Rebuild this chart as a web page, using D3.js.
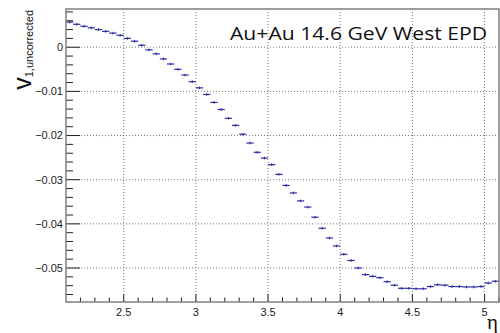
<!DOCTYPE html>
<html>
<head>
<meta charset="utf-8">
<script src="https://cdn.jsdelivr.net/npm/d3@7"></script>
<style>
  html, body { margin: 0; padding: 0; background: #fff; }
  svg { display: block; }
</style>
</head>
<body>
<div id="chart"></div>
<script>
// eta bin centres (bin width 0.05)
const etaCenters = [
    2.125, 2.175, 2.225, 2.275, 2.325, 2.375, 2.425, 2.475, 2.525, 2.575,
    2.625, 2.675, 2.725, 2.775, 2.825, 2.875, 2.925, 2.975, 3.025, 3.075,
    3.125, 3.175, 3.225, 3.275, 3.325, 3.375, 3.425, 3.475, 3.525, 3.575,
    3.625, 3.675, 3.725, 3.775, 3.825, 3.875, 3.925, 3.975, 4.025, 4.075,
    4.125, 4.175, 4.225, 4.275, 4.325, 4.375, 4.425, 4.475, 4.525, 4.575,
    4.625, 4.675, 4.725, 4.775, 4.825, 4.875, 4.925, 4.975, 5.025, 5.075
];

// v1 (uncorrected) per bin
const v1Values = [
    0.0057, 0.0052, 0.00475, 0.0044, 0.0040, 0.0036, 0.0032, 0.0027, 0.0020, 0.00136,
    0.00045, -0.0006, -0.0015, -0.00265, -0.0038, -0.0050, -0.0063, -0.0078, -0.0092, -0.0107,
    -0.0125, -0.0141, -0.0161, -0.0177, -0.0197, -0.0217, -0.0238, -0.0251, -0.0266, -0.0288,
    -0.0313, -0.0330, -0.0348, -0.0362, -0.0385, -0.0410, -0.0432, -0.0450, -0.0469, -0.0483,
    -0.0500, -0.0515, -0.0519, -0.0522, -0.0531, -0.0539, -0.0546, -0.0546, -0.0547, -0.0547,
    -0.0542, -0.0538, -0.0539, -0.0542, -0.0542, -0.0543, -0.0543, -0.0542, -0.0534, -0.0530
];

// statistical errors (small)
const v1Errors = [
    0.0003, 0.0003, 0.0003, 0.0003, 0.0003, 0.0003, 0.0003, 0.0003, 0.0003, 0.0003,
    0.0003, 0.0003, 0.0003, 0.0003, 0.0003, 0.0003, 0.0003, 0.0003, 0.0003, 0.0003,
    0.0003, 0.0003, 0.0003, 0.0003, 0.0003, 0.0003, 0.0003, 0.0003, 0.0003, 0.0003,
    0.0003, 0.0003, 0.0003, 0.0003, 0.0003, 0.0003, 0.0003, 0.0003, 0.0003, 0.0003,
    0.0003, 0.0003, 0.0003, 0.0003, 0.0003, 0.0003, 0.0003, 0.0003, 0.0003, 0.0003,
    0.0003, 0.0003, 0.0003, 0.0003, 0.0003, 0.0003, 0.0003, 0.0003, 0.0003, 0.0003
];

const binHalfWidth = 0.025;

// axis ticks
const xMajorTicks = [2.5, 3, 3.5, 4, 4.5, 5];
const xMinorTicks = [2.2, 2.3, 2.4, 2.6, 2.7, 2.8, 2.9, 3.1, 3.2, 3.3, 3.4,
    3.6, 3.7, 3.8, 3.9, 4.1, 4.2, 4.3, 4.4, 4.6, 4.7, 4.8, 4.9, 5.1];
const yMajorTicks = [0, -0.01, -0.02, -0.03, -0.04, -0.05];
const yMinorTicks = [0.008, 0.006, 0.004, 0.002, -0.002, -0.004, -0.006, -0.008,
    -0.012, -0.014, -0.016, -0.018, -0.022, -0.024, -0.026, -0.028,
    -0.032, -0.034, -0.036, -0.038, -0.042, -0.044, -0.046, -0.048,
    -0.052, -0.054, -0.056];

const data = etaCenters.map((eta, i) => ({ eta: eta, v: v1Values[i], err: v1Errors[i] }));

// Set up dimensions
const svgWidth = 500, svgHeight = 333;
const margin = { top: 9, right: 1, bottom: 31, left: 66 };
const width = svgWidth - margin.left - margin.right;
const height = svgHeight - margin.top - margin.bottom;

const svg = d3.select("#chart")
    .append("svg")
    .attr("width", svgWidth)
    .attr("height", svgHeight);

const g = svg.append("g")
    .attr("transform", `translate(${margin.left},${margin.top})`);

const xScale = d3.scaleLinear()
    .domain([2.1, 5.1])
    .range([0, width]);

const yScale = d3.scaleLinear()
    .domain([-0.0577, 0.00866])
    .range([height, 0]);

// Dotted grid at major ticks
g.append("g")
    .selectAll("line")
    .data(xMajorTicks)
    .enter()
    .append("line")
    .attr("x1", d => xScale(d))
    .attr("x2", d => xScale(d))
    .attr("y1", 0)
    .attr("y2", height)
    .attr("stroke", "#555")
    .attr("stroke-width", 0.8)
    .attr("stroke-dasharray", "1,2");

g.append("g")
    .selectAll("line")
    .data(yMajorTicks)
    .enter()
    .append("line")
    .attr("x1", 0)
    .attr("x2", width)
    .attr("y1", d => yScale(d))
    .attr("y2", d => yScale(d))
    .attr("stroke", "#555")
    .attr("stroke-width", 0.8)
    .attr("stroke-dasharray", "1,2");

// Data: horizontal bin-width bars plus vertical error bars
const lineColor = "#2a2aa2";
const points = g.append("g");

points.selectAll(".xerr")
    .data(data)
    .enter()
    .append("line")
    .attr("class", "xerr")
    .attr("x1", d => xScale(d.eta - binHalfWidth))
    .attr("x2", d => xScale(d.eta + binHalfWidth))
    .attr("y1", d => yScale(d.v))
    .attr("y2", d => yScale(d.v))
    .attr("stroke", lineColor)
    .attr("stroke-width", 1.2);

points.selectAll(".yerr")
    .data(data)
    .enter()
    .append("line")
    .attr("class", "yerr")
    .attr("x1", d => xScale(d.eta))
    .attr("x2", d => xScale(d.eta))
    .attr("y1", d => yScale(d.v - d.err))
    .attr("y2", d => yScale(d.v + d.err))
    .attr("stroke", lineColor)
    .attr("stroke-width", 1);

// Ticks (inside the frame)
const tickColor = "#222";
g.append("g")
    .selectAll("line")
    .data(yMajorTicks)
    .enter()
    .append("line")
    .attr("x1", 0).attr("x2", 14)
    .attr("y1", d => yScale(d)).attr("y2", d => yScale(d))
    .attr("stroke", tickColor);

g.append("g")
    .selectAll("line")
    .data(yMinorTicks)
    .enter()
    .append("line")
    .attr("x1", 0).attr("x2", 7)
    .attr("y1", d => yScale(d)).attr("y2", d => yScale(d))
    .attr("stroke", tickColor);

g.append("g")
    .selectAll("line")
    .data(xMajorTicks)
    .enter()
    .append("line")
    .attr("x1", d => xScale(d)).attr("x2", d => xScale(d))
    .attr("y1", height).attr("y2", height - 8)
    .attr("stroke", tickColor);

g.append("g")
    .selectAll("line")
    .data(xMinorTicks)
    .enter()
    .append("line")
    .attr("x1", d => xScale(d)).attr("x2", d => xScale(d))
    .attr("y1", height).attr("y2", height - 4.5)
    .attr("stroke", tickColor);

// Frame
g.append("rect")
    .attr("x", 0)
    .attr("y", 0)
    .attr("width", width)
    .attr("height", height)
    .attr("fill", "none")
    .attr("stroke", "#808080")
    .attr("stroke-width", 1.5);

// Tick labels
const labelFont = "'Liberation Sans', Arial, sans-serif";
const yFormat = d3.format(".2~f");

g.append("g")
    .selectAll("text")
    .data(yMajorTicks)
    .enter()
    .append("text")
    .attr("x", -3)
    .attr("y", d => yScale(d))
    .attr("dy", "0.35em")
    .attr("text-anchor", "end")
    .attr("font-size", "11px")
    .attr("font-family", labelFont)
    .attr("fill", "#222")
    .text(d => d === 0 ? "0" : yFormat(d));

g.append("g")
    .selectAll("text")
    .data(xMajorTicks)
    .enter()
    .append("text")
    .attr("x", d => xScale(d))
    .attr("y", height + 14)
    .attr("text-anchor", "middle")
    .attr("font-size", "11px")
    .attr("font-family", labelFont)
    .attr("fill", "#222")
    .text(d => d);

// Y axis title: v_{1,uncorrected}, aligned to top end
const yTitle = svg.append("text")
    .attr("transform", "translate(31,10) rotate(-90)")
    .attr("text-anchor", "end")
    .attr("font-family", labelFont)
    .attr("fill", "#111");
yTitle.append("tspan")
    .attr("font-size", "25px")
    .text("v");
yTitle.append("tspan")
    .attr("font-size", "11px")
    .attr("dy", "2")
    .text("1,uncorrected");

// X axis title
svg.append("text")
    .attr("x", 498)
    .attr("y", 329)
    .attr("text-anchor", "end")
    .attr("font-size", "21px")
    .attr("font-family", "'Liberation Serif', 'DejaVu Serif', serif")
    .attr("fill", "#111")
    .text("η");

// Plot label
svg.append("text")
    .attr("x", 230)
    .attr("y", 40)
    .attr("font-size", "18px")
    .attr("font-family", "'Open Sans', sans-serif")
    .attr("textLength", 257)
    .attr("lengthAdjust", "spacingAndGlyphs")
    .attr("fill", "#111")
    .text("Au+Au 14.6 GeV West EPD");
</script>
</body>
</html>
